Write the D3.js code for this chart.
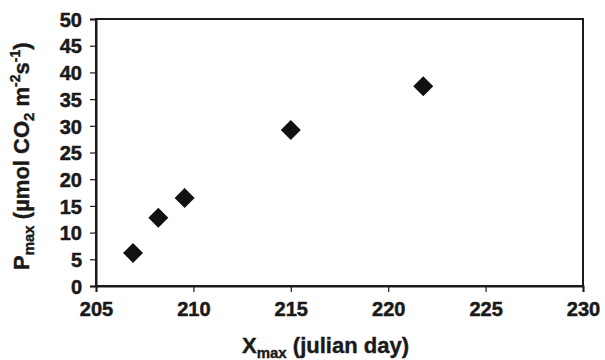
<!DOCTYPE html>
<html><head><meta charset="utf-8">
<script src="https://cdn.jsdelivr.net/npm/d3@7"></script>
<style>
html,body{margin:0;padding:0;background:#fff;}
</style></head>
<body><svg id="c" width="605" height="360"></svg>
<script>
const xmaxDays = [206.9, 208.2, 209.55, 215.0, 221.8];
const pmaxValues = [6.2, 12.8, 16.5, 29.2, 37.4];
const xTicks = [205, 210, 215, 220, 225, 230];
const yTicks = [0, 5, 10, 15, 20, 25, 30, 35, 40, 45, 50];

const FONT = "'Liberation Sans', Arial, sans-serif";
const INK = "#1a1a1a";
const svg = d3.select("#c");
const L = 96, R = 583, T = 19, B = 286;
const x = d3.scaleLinear().domain([205, 230]).range([L, R]);
const y = d3.scaleLinear().domain([0, 50]).range([B, T]);

svg.append("rect").attr("x", L).attr("y", T).attr("width", R - L).attr("height", B - T)
  .attr("fill", "none").attr("stroke", INK).attr("stroke-width", 2);

const xa = svg.append("g").attr("transform", `translate(0,${B})`)
  .call(d3.axisBottom(x).tickValues(xTicks).tickSize(6).tickPadding(10).tickFormat(d3.format("d")));
const ya = svg.append("g").attr("transform", `translate(${L},0)`)
  .call(d3.axisLeft(y).tickValues(yTicks).tickSize(6).tickPadding(8).tickFormat(d3.format("d")));
[xa, ya].forEach(g => {
  g.attr("font-family", FONT).attr("font-size", 20).attr("font-weight", "bold");
  g.select(".domain").attr("stroke", INK).attr("stroke-width", 2);
  g.selectAll(".tick line").attr("stroke", INK).attr("stroke-width", 1.2);
  g.selectAll("text").attr("fill", INK).attr("font-weight", "bold")
    .attr("stroke", INK).attr("stroke-width", 0.5);
});
ya.selectAll("text").attr("dy", "0.36em");

const sym = d3.symbol().type(d3.symbolSquare).size(200);
svg.append("g").selectAll("path").data(xmaxDays).join("path")
  .attr("d", sym)
  .attr("transform", (d, i) => `translate(${x(d)},${y(pmaxValues[i])}) rotate(45)`)
  .attr("fill", "#111");

function styleTitle(t) {
  t.attr("font-family", FONT).attr("font-weight", "bold").attr("font-size", 22)
   .attr("fill", INK).attr("stroke", INK).attr("stroke-width", 0.4);
}

const xt = svg.append("text").attr("x", 242).attr("y", 353).attr("text-anchor", "start");
styleTitle(xt);
xt.append("tspan").text("X");
xt.append("tspan").attr("font-size", 15).attr("dy", 5).text("max");
xt.append("tspan").attr("dy", -5).text(" (julian day)");

const yt = svg.append("text").attr("transform", `translate(29,0) rotate(-90)`)
  .attr("x", -270).attr("y", 0).attr("text-anchor", "start");
styleTitle(yt);
yt.append("tspan").text("P");
yt.append("tspan").attr("font-size", 15).attr("dy", 5).text("max");
yt.append("tspan").attr("dy", -5).text(" (µmol CO");
yt.append("tspan").attr("font-size", 15).attr("dy", 5).text("2");
yt.append("tspan").attr("dy", -5).text(" m");
yt.append("tspan").attr("font-size", 14).attr("dy", -9).text("-2");
yt.append("tspan").attr("dy", 9).text("s");
yt.append("tspan").attr("font-size", 14).attr("dy", -9).text("-1");
yt.append("tspan").attr("dy", 9).text(")");
</script></body></html>
